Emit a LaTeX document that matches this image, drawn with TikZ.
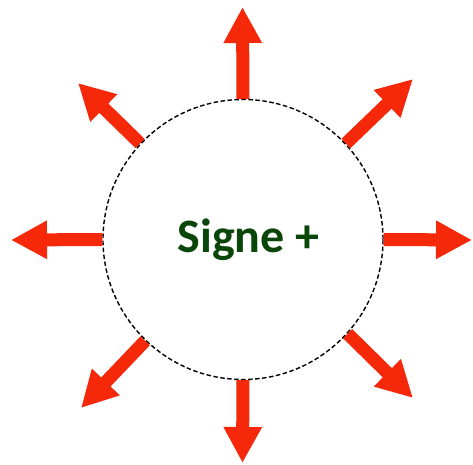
\documentclass[tikz,border=0pt]{standalone}
\usepackage{fontspec}
\setmainfont{Carlito}
\usetikzlibrary{arrows.meta}
\definecolor{arrowred}{RGB}{245,40,10}
\definecolor{labelgreen}{RGB}{10,70,10}
\begin{document}
\begin{tikzpicture}[x=1pt,y=1pt,
  outarrow/.style={draw=arrowred, line width=13pt,
    -{Triangle[width=36pt,length=36pt,fill=arrowred]}},
  ring/.style={circle, draw=black, line width=1.4pt, dash pattern=on 4.5pt off 2.5pt,
    minimum size=280pt, inner sep=0pt, fill=white},
  label/.style={font=\bfseries\fontsize{48}{52}\selectfont, text=labelgreen, anchor=base, inner sep=0pt}]
\useasboundingbox (0,0) rectangle (473,464);
\node[ring] (c) at (243,224.5) {};
\coordinate (tN) at (242.5,457);
\coordinate (tS) at (242.5,1);
\coordinate (tW) at (11,224);
\coordinate (tE) at (472,224);
\coordinate (tNE) at (413,385);
\coordinate (tNW) at (78,381);
\coordinate (tSW) at (81,56);
\coordinate (tSE) at (413,66);
\draw[outarrow] (c.north) -- (tN);
\draw[outarrow] (c.south) -- (tS);
\draw[outarrow] (c.west) -- (tW);
\draw[outarrow] (c.east) -- (tE);
\draw[outarrow] (c.43) -- (tNE);
\draw[outarrow] (c.137) -- (tNW);
\draw[outarrow] (c.226) -- (tSW);
\draw[outarrow] (c.318) -- (tSE);
\node[label] (t) at (248.5,211.5) {Signe +};
\end{tikzpicture}
\end{document}
